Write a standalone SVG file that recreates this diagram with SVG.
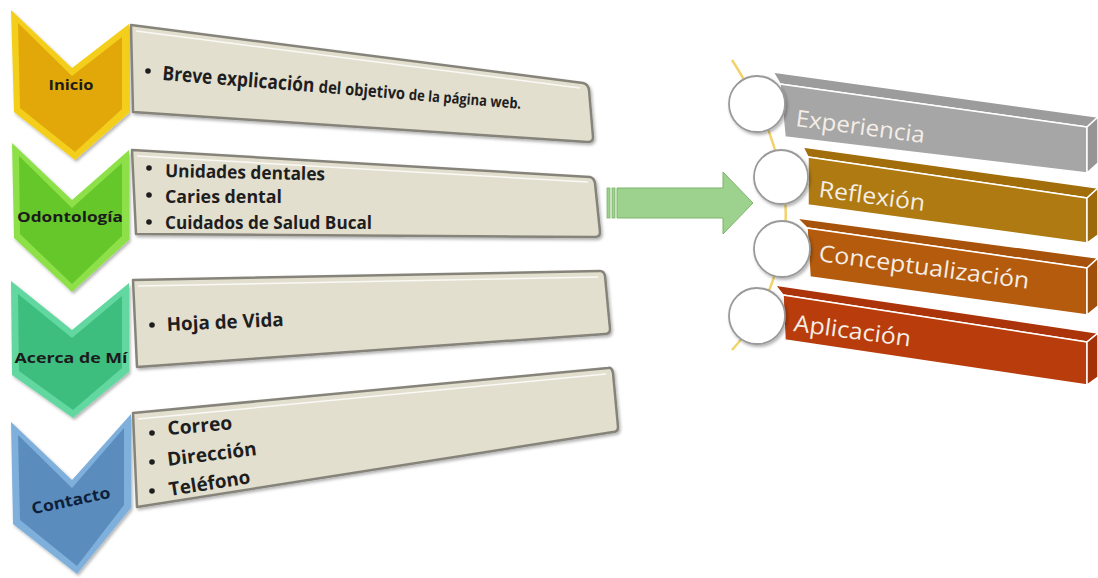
<svg xmlns="http://www.w3.org/2000/svg" width="1098" height="578" viewBox="0 0 1098 578">
<defs>
<style>
.lbl{font-family:"Open Sans","Liberation Sans",Arial,sans-serif;font-weight:bold;fill:#1b1b1b}
.bx{fill:#E3DFCF;stroke:#86847a;stroke-width:2.5;stroke-linejoin:round}
.bxi{fill:none;stroke:#ffffff;stroke-width:1.5;opacity:0.8}
.bt{font-family:"Open Sans","Liberation Sans",Arial,sans-serif;font-weight:bold;fill:#1e1e1e}
.bar{stroke:#ffffff;stroke-width:1.5;stroke-linejoin:round}
.bartxt{font-family:"Open Sans","Noto Sans",sans-serif;fill:#F4EEE6;font-size:23px}
.circ{fill:#ffffff;stroke:#9a9a9a;stroke-width:1.8}
</style>
<filter id="sh" x="-10%" y="-10%" width="120%" height="130%">
<feDropShadow dx="1.5" dy="2" stdDeviation="1.5" flood-color="#000" flood-opacity="0.3"/>
</filter>
</defs>
<rect width="1098" height="578" fill="#ffffff"/>

<g id="inicio">
<polygon points="11,10 72,68 129,24 129,113 75,160 14,112" fill="#F3CF1E" filter="url(#sh)"/>
<polygon points="18,23 72,76 122,37 122,109 75,152 20,108" fill="#E2A80A"/>
<text class="lbl" x="71" y="90" font-size="15" text-anchor="middle" textLength="45" lengthAdjust="spacingAndGlyphs">Inicio</text>
</g>
<g id="odontologia">
<polygon points="12,143 72,200 129,150 129,240 72,292 14,238" fill="#8EE04A" filter="url(#sh)"/>
<polygon points="19,156 72,208 122,163 122,236 72,284 20,234" fill="#66C72A"/>
<text class="lbl" x="70" y="222" font-size="15" text-anchor="middle" textLength="106" lengthAdjust="spacingAndGlyphs">Odontología</text>
</g>
<g id="acerca">
<polygon points="11,281 72,330 129,283 129,372 73,418 12,375" fill="#62D8A0" filter="url(#sh)"/>
<polygon points="18,294 72,338 122,296 122,368 73,410 19,371" fill="#3DBD7E"/>
<text class="lbl" x="71" y="363" font-size="15" text-anchor="middle" textLength="113" lengthAdjust="spacingAndGlyphs">Acerca de Mí</text>
</g>
<g id="contacto">
<polygon points="11,422 72,480 131,414 131,508 77,574 13,524" fill="#7FB0DC" filter="url(#sh)"/>
<polygon points="18,435 72,488 124,428 124,505 77,566 20,520" fill="#5A8DBD"/>
<text class="lbl" x="72" y="506" font-size="16" text-anchor="middle" textLength="80" lengthAdjust="spacingAndGlyphs" transform="rotate(-12 72 506)" style="fill:#0f1f3a">Contacto</text>
</g>

<g id="box1">
<path class="bx" d="M131,25 L583,83 Q588,84 589,90 L593,137 Q593,142 588,142 L133,112 Z" filter="url(#sh)"/>
<path class="bxi" d="M136,31 L580,88"/>
<circle cx="148" cy="71" r="2.8" fill="#1e1e1e"/>
<text class="bt" x="162" y="80" transform="rotate(4.6 162 80)" textLength="360" lengthAdjust="spacingAndGlyphs"><tspan font-size="20">Breve explicación </tspan><tspan font-size="17">del objetivo </tspan><tspan font-size="15">de la página web.</tspan></text>
</g>
<g id="box2">
<path class="bx" d="M132,150 L590,177 Q594,178 595,183 L600,232 Q600,237 595,237 L136,234 Z" filter="url(#sh)"/>
<path class="bxi" d="M137,156 L588,182"/>
<circle cx="149" cy="168" r="2.8" fill="#1e1e1e"/>
<circle cx="149" cy="195" r="2.8" fill="#1e1e1e"/>
<circle cx="149" cy="222" r="2.8" fill="#1e1e1e"/>
<text class="bt" x="165" y="177" font-size="18" transform="rotate(1.2 165 177)" textLength="160" lengthAdjust="spacingAndGlyphs">Unidades dentales</text>
<text class="bt" x="165" y="203" font-size="18" textLength="117" lengthAdjust="spacingAndGlyphs">Caries dental</text>
<text class="bt" x="165" y="229" font-size="18" textLength="207" lengthAdjust="spacingAndGlyphs">Cuidados de Salud Bucal</text>
</g>
<g id="box3">
<path class="bx" d="M133,280 L600,271 Q604,271 605,276 L610,329 Q610,334 605,334 L137,367 Z" filter="url(#sh)"/>
<path class="bxi" d="M138,286 L598,277"/>
<circle cx="152" cy="325" r="2.8" fill="#1e1e1e"/>
<text class="bt" x="167" y="331" font-size="19" transform="rotate(-2.5 167 331)" textLength="117" lengthAdjust="spacingAndGlyphs">Hoja de Vida</text>
</g>
<g id="box4">
<path class="bx" d="M133,413 L608,368 Q612,367 613,373 L618,427 Q618,432 613,432 L137,507 Z" filter="url(#sh)"/>
<path class="bxi" d="M138,419 L606,374"/>
<circle cx="152" cy="433" r="2.8" fill="#1e1e1e"/>
<circle cx="152" cy="462" r="2.8" fill="#1e1e1e"/>
<circle cx="152" cy="491" r="2.8" fill="#1e1e1e"/>
<text class="bt" x="168" y="435" font-size="19" transform="rotate(-5 168 435)" textLength="65" lengthAdjust="spacingAndGlyphs">Correo</text>
<text class="bt" x="168" y="466" font-size="19" transform="rotate(-7 168 466)" textLength="90" lengthAdjust="spacingAndGlyphs">Dirección</text>
<text class="bt" x="170" y="496" font-size="19" transform="rotate(-9 170 496)" textLength="82" lengthAdjust="spacingAndGlyphs">Teléfono</text>
</g>

<g id="connectors">
<rect x="607" y="188" width="3" height="30" fill="#9DD18E" stroke="#7DB56A" stroke-width="0.8"/>
<rect x="612" y="188" width="3" height="30" fill="#9DD18E" stroke="#7DB56A" stroke-width="0.8"/>
<polygon points="617,188 723,188 723,172 753,203 723,234 723,218 617,218" fill="#9DD18E" stroke="#7DB56A" stroke-width="1"/>
</g>

<g id="cycle-line">
<path d="M732,60 Q745,80 757,104 Q775,140 781,177 Q790,210 782,249 Q772,290 757,316 Q745,336 732,350" fill="none" stroke="#F2D36B" stroke-width="2.5"/>
</g>

<g id="experiencia">
<polygon class="bar" points="773,72 1098,117 1087,127 780,84" fill="#9C9C9C"/>
<polygon class="bar" points="780,84 1087,127 1087,173 785,137" fill="#A6A6A6"/>
<polygon class="bar" points="1087,127 1098,117 1098,163 1087,173" fill="#959595"/>
<circle class="circ" cx="757" cy="104" r="28" filter="url(#sh)"/>
<text class="bartxt" x="795" y="126" transform="rotate(7.5 795 126)" textLength="130" lengthAdjust="spacingAndGlyphs">Experiencia</text>
</g>
<g id="reflexion">
<polygon class="bar" points="803,147 1098,188 1087,198 808,157" fill="#A26E0C"/>
<polygon class="bar" points="808,157 1087,198 1087,243 808,205" fill="#AE7A11"/>
<polygon class="bar" points="1087,198 1098,188 1098,235 1087,243" fill="#9C690B"/>
<circle class="circ" cx="781" cy="177" r="27" filter="url(#sh)"/>
<text class="bartxt" x="818" y="197" transform="rotate(7.5 818 197)" textLength="107" lengthAdjust="spacingAndGlyphs">Reflexión</text>
</g>
<g id="conceptualizacion">
<polygon class="bar" points="797,218 1098,258 1087,268 807,228" fill="#A8530B"/>
<polygon class="bar" points="807,228 1087,268 1087,315 810,277" fill="#B45B0E"/>
<polygon class="bar" points="1087,268 1098,258 1098,306 1087,315" fill="#A0500A"/>
<circle class="circ" cx="782" cy="249" r="28" filter="url(#sh)"/>
<text class="bartxt" x="818" y="261" transform="rotate(7.5 818 261)" textLength="212" lengthAdjust="spacingAndGlyphs">Conceptualización</text>
</g>
<g id="aplicacion">
<polygon class="bar" points="775,285 1098,333 1087,342 783,295" fill="#AC340A"/>
<polygon class="bar" points="783,295 1087,342 1087,385 785,340" fill="#B93C0C"/>
<polygon class="bar" points="1087,342 1098,333 1098,377 1087,385" fill="#A33209"/>
<circle class="circ" cx="757" cy="316" r="28" filter="url(#sh)"/>
<text class="bartxt" x="793" y="331" transform="rotate(7.5 793 331)" textLength="118" lengthAdjust="spacingAndGlyphs">Aplicación</text>
</g>
</svg>
